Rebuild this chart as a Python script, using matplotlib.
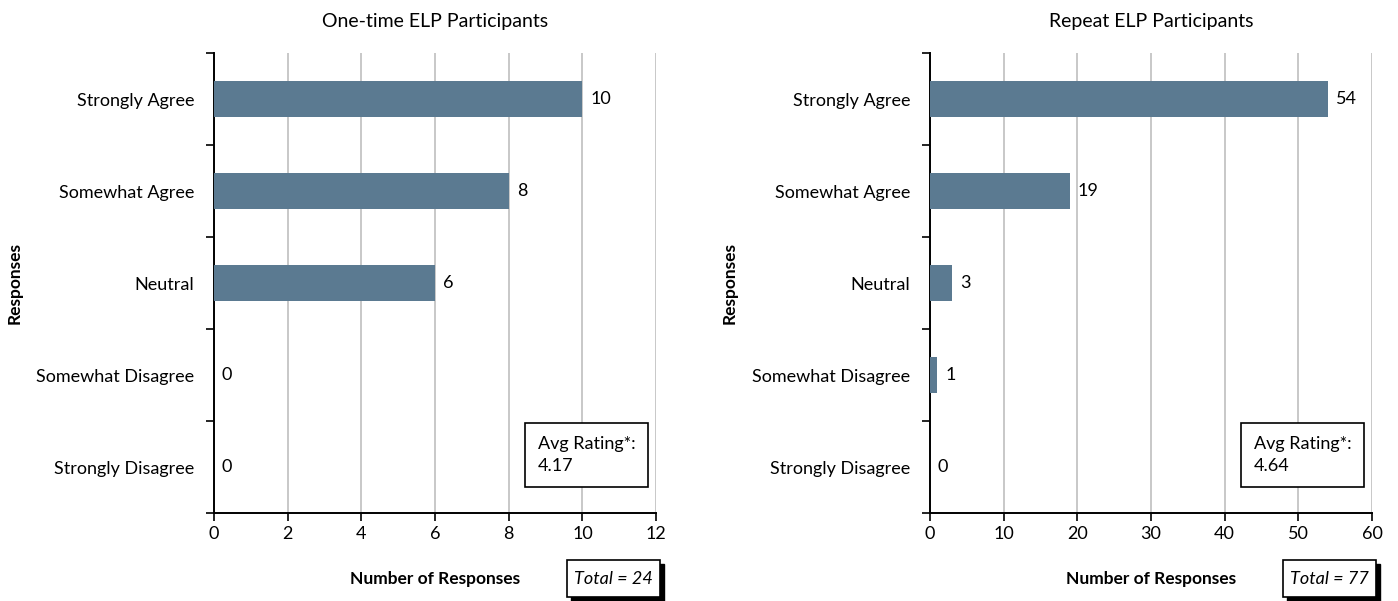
import numpy as np
import matplotlib.pyplot as plt
from matplotlib.patches import Rectangle
from matplotlib.transforms import offset_copy

plt.rcParams['font.family'] = ['Lato', 'DejaVu Sans']

categories = ['Strongly Agree', 'Somewhat Agree', 'Neutral', 'Somewhat Disagree', 'Strongly Disagree']
one_time = [10, 8, 6, 0, 0]
repeat = [54, 19, 3, 1, 0]
titles = ['One-time ELP Participants', 'Repeat ELP Participants']
avg_ratings = ['4.17', '4.64']
totals = [24, 77]
xmax = [12, 60]
xstep = [2, 10]

bar_color = '#5B7A91'

fig = plt.figure(figsize=(13.98, 6.01), dpi=100)
axes = [fig.add_axes([0.1531, 0.1464, 0.3162, 0.7654]),
        fig.add_axes([0.6652, 0.1464, 0.3162, 0.7654])]

for ax, vals, title, avg, tot, xm, xs in zip(axes, [one_time, repeat], titles, avg_ratings, totals, xmax, xstep):
    y = np.arange(len(categories))
    ax.barh(y, vals, height=0.4, color=bar_color, zorder=3)
    ax.set_ylim(len(categories) - 0.5, -0.5)
    ax.set_xlim(0, xm)
    ax.set_xticks(np.arange(0, xm + 1, xs))
    ax.set_yticks(y)
    ax.set_yticklabels(categories, fontsize=13)
    ax.tick_params(axis='y', length=0, pad=14)
    ax.set_yticks(np.arange(-0.5, len(categories)), minor=True)
    ax.tick_params(axis='y', which='minor', length=6, width=1.2, direction='out')
    ax.tick_params(axis='x', labelsize=13, length=6, width=1.2, direction='out')
    ax.grid(axis='x', color='#BFBFBF', linewidth=1.2, zorder=0)
    for s in ['top', 'right']:
        ax.spines[s].set_visible(False)
    for s in ['left', 'bottom']:
        ax.spines[s].set_linewidth(1.4)
    ax.set_axisbelow(True)

    offset = xm * 0.018
    for yi, v in zip(y, vals):
        ax.text(v + offset, yi, str(v), va='center', ha='left', fontsize=13)

    ax.set_title(title, fontsize=14, pad=19)
    ax.set_ylabel('Responses', fontsize=12.5, fontweight='bold')
    ax.yaxis.set_label_coords(-0.434, 0.5)
    ax.set_xlabel('Number of Responses', fontsize=12.5, fontweight='bold', labelpad=21)

    ax.text(0.733, 0.126, f'Avg Rating*:\n{avg}', transform=ax.transAxes,
            fontsize=13, va='center', ha='left', linespacing=1.45,
            bbox=dict(boxstyle='square,pad=0.7', fc='white', ec='black', lw=1.2), zorder=5)

    # "Total" box with a drop shadow
    shadow_tr = offset_copy(ax.transAxes, fig=fig, x=4, y=-4, units='dots')
    ax.add_patch(Rectangle((0.799, -0.183), 0.210, 0.080, transform=shadow_tr,
                           fc='black', ec='black', clip_on=False, zorder=4))
    ax.add_patch(Rectangle((0.799, -0.183), 0.210, 0.080, transform=ax.transAxes,
                           fc='white', ec='black', lw=1.2, clip_on=False, zorder=5))
    ax.text(0.904, -0.143, f'Total = {tot}', transform=ax.transAxes,
            fontsize=13, style='italic', va='center', ha='center', clip_on=False, zorder=6)

fig.savefig('out.png', dpi=100)
